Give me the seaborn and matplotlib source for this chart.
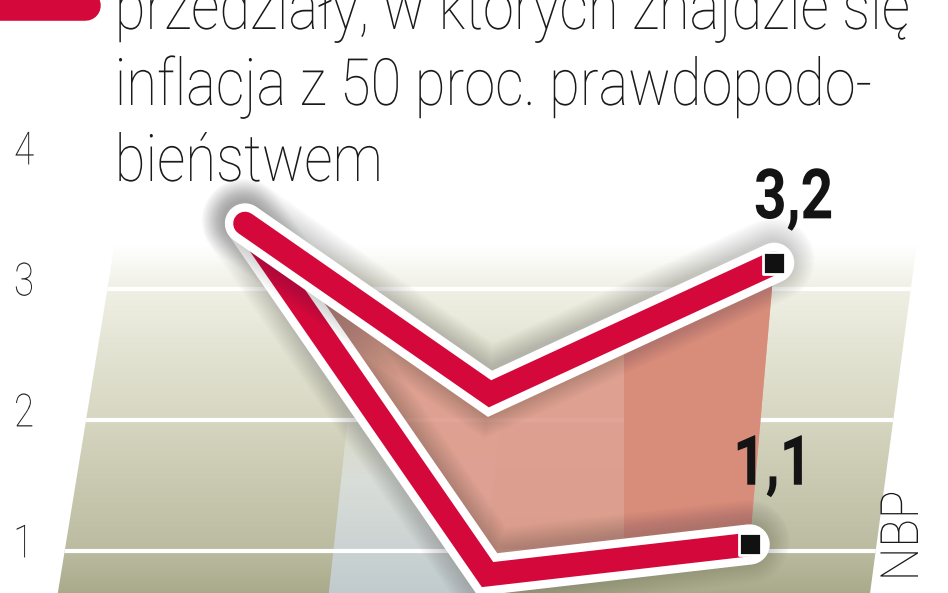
import numpy as np
import pandas as pd
import matplotlib
matplotlib.use("Agg")
import matplotlib.pyplot as plt
import matplotlib.patheffects as pe
import matplotlib.transforms as mtrans
from matplotlib.patches import Polygon, Rectangle
from matplotlib.lines import Line2D
import seaborn as sns

# dane (inflacja, proc.)
x_gora = [0.0, 1.0, 2.16]
x_dol = [0.0, 0.99, 2.06]
gorna_granica = [3.5, 2.2, 3.2]
dolna_granica = [3.5, 0.82, 1.05]
etykiety_konca = ["3,2", "1,1"]
podzialka_y = [1, 2, 3, 4]
tytul = ["przedziały, w których znajdzie się",
         "inflacja z 50 proc. prawdopodo-",
         "bieństwem"]
zrodlo = "Źródło: NBP"

sns.set_theme(style="white")
FONT = ["Roboto", "DejaVu Sans"]
plt.rcParams["font.family"] = FONT

RED = "#d4083a"
W, H = 948, 593

fig = plt.figure(figsize=(9.48, 5.93), dpi=100)
ax = fig.add_axes([0, 0, 1, 1])


class Scisk(pe.AbstractPathEffect):
    # zweza tekst (brak kroju condensed w systemie)
    def __init__(self, sx=1.0, sy=1.0, kotwica="left"):
        super().__init__()
        self.sx, self.sy, self.kotwica = sx, sy, kotwica

    def draw_path(self, renderer, gc, tpath, affine, rgbFace=None):
        bb = tpath.get_extents(affine)
        if self.kotwica == "left":
            x0, y0 = bb.x0, bb.y0
        elif self.kotwica == "top":
            x0, y0 = bb.x1, bb.y1
        else:
            x0, y0 = (bb.x0 + bb.x1) / 2, bb.y0
        t = affine + mtrans.Affine2D().translate(-x0, -y0).scale(self.sx, self.sy).translate(x0, y0)
        renderer.draw_path(gc, tpath, t, rgbFace)


def px(x, y):
    # piksele obrazka -> ulamki osi
    return (x / W, 1 - y / H)


#tlo: trapez z gradientem od bieli do oliwki
def lewa(py):
    return 117 - 0.163 * (py - 230)


def prawa(py):
    return 912 - 0.134 * (py - 280)


tlo = Polygon([px(lewa(170), 170), px(prawa(170), 170),
               px(prawa(600), 600), px(lewa(600), 600)],
              closed=True, transform=ax.transAxes, facecolor="none", edgecolor="none")
ax.add_patch(tlo)

wiersze = np.arange(H)
kotwice = [0, 245, 289, 420, 551, 593]
kolory = ["#ffffff", "#ffffff", "#efefe4", "#d6d6c1", "#bbbba0", "#a9a98b"]
rgb = np.array([matplotlib.colors.to_rgb(c) for c in kolory])
grad = np.stack([np.interp(wiersze, kotwice, rgb[:, k]) for k in range(3)], axis=-1)
im = ax.imshow(grad[:, None, :], extent=(0, 1, 0, 1), transform=ax.transAxes,
               aspect="auto", origin="upper", zorder=0, interpolation="bilinear")
im.set_clip_path(tlo)

#jasniejszy, niebieskawy pas
pas = Polygon([px(352, 380), px(505, 380), px(480, 600), px(328, 600)],
              closed=True, transform=ax.transAxes, facecolor="none", edgecolor="none")
ax.add_patch(pas)
kotw_p = [0, 400, 480, 593]
kol_p = np.array([[0.93, 0.94, 0.92, 0.0], [0.93, 0.94, 0.92, 0.0],
                  [0.86, 0.88, 0.87, 0.9], [0.76, 0.80, 0.81, 1.0]])
grad_p = np.stack([np.interp(wiersze, kotw_p, kol_p[:, k]) for k in range(4)], axis=-1)
im2 = ax.imshow(grad_p[:, None, :], extent=(0, 1, 0, 1), transform=ax.transAxes,
                aspect="auto", origin="upper", zorder=0.5, interpolation="bilinear")
im2.set_clip_path(pas)

#linie siatki
siatka = ax.hlines(podzialka_y, -5, 5, colors="white", linewidth=3, zorder=1)
siatka.set_clip_path(tlo)

#wypelnienie miedzy granicami przedzialu
xs = x_gora + x_dol[::-1]
ys = gorna_granica + dolna_granica[::-1]
ax.fill(xs, ys, color="#df9a8b", alpha=0.9, lw=0, zorder=1.5)
ciemniej = ax.fill(xs, ys, color="#d88a78", alpha=0.9, lw=0, zorder=1.6)[0]
ciemniej.set_clip_path(Rectangle((624 / W, 0), 1, 1, transform=ax.transAxes))

#miekki cien wokol linii
glow = [pe.Stroke(linewidth=w, foreground="#3a3a3a", alpha=0.017, offset=(-1, 2))
        for w in range(60, 29, -2)]
efekty = glow + [pe.Stroke(linewidth=29, foreground="white"), pe.Normal()]

for xx, yy, z in [(x_dol, dolna_granica, 3), (x_gora, gorna_granica, 4)]:
    df = pd.DataFrame({"x": xx, "y": yy})
    sns.lineplot(data=df, x="x", y="y", sort=False, estimator=None,
                 color=RED, linewidth=17, ax=ax)
    ln = ax.lines[-1]
    ln.set_solid_capstyle("round")
    ln.set_solid_joinstyle("miter")
    ln.set_path_effects(efekty)
    ln.set_zorder(z)
    sns.scatterplot(x=[xx[-1]], y=[yy[-1]], marker="s", s=250, color="#111111",
                    edgecolor="white", linewidth=2, zorder=z + 0.5, ax=ax)

#wartosci na koncu
przesuniecia = [(14, 32), (17, 43)]
for txt, xx, yy, off in zip(etykiety_konca, [x_gora, x_dol],
                            [gorna_granica, dolna_granica], przesuniecia):
    ax.annotate(txt, xy=(xx[-1], yy[-1]), xytext=off, textcoords="offset points",
                ha="center", va="baseline", fontsize=50, fontweight="bold",
                color="#141414", zorder=6,
                path_effects=[Scisk(0.82, kotwica="center")])

#opisy osi y
tr = mtrans.blended_transform_factory(ax.transAxes, ax.transData)
for v in podzialka_y:
    ax.text(24 / W, v + 0.05, str(v), transform=tr, ha="center", va="center",
            fontsize=33, fontweight="light", color="#222222", zorder=6,
            path_effects=[Scisk(0.8, kotwica="center")])

#legenda i tytul
ax.add_line(Line2D([-30 / W, 85 / W], [1 - 5 / H] * 2, transform=ax.transAxes,
                   color=RED, lw=22, solid_capstyle="round", zorder=6))
for linia, yb in zip(tytul, [29, 105, 181]):
    ax.text(114 / W, 1 - yb / H, linia, transform=ax.transAxes, ha="left",
            va="baseline", fontsize=47, fontweight="light", color="#1a1a1a",
            zorder=6, path_effects=[Scisk(0.86, kotwica="left")])

ax.text(918 / W, 1 - 490 / H, zrodlo, transform=ax.transAxes, rotation=90,
        rotation_mode="anchor", ha="right", va="baseline", fontsize=38,
        fontweight="light", color="#1a1a1a", zorder=6,
        path_effects=[Scisk(1.0, 0.9, kotwica="top")])

ax.set_xlim(-1.0, 703 / 245)
ax.set_ylim((682 - 593) / 131, 682 / 131)
ax.axis("off")

fig.savefig("out.png", dpi=100)
